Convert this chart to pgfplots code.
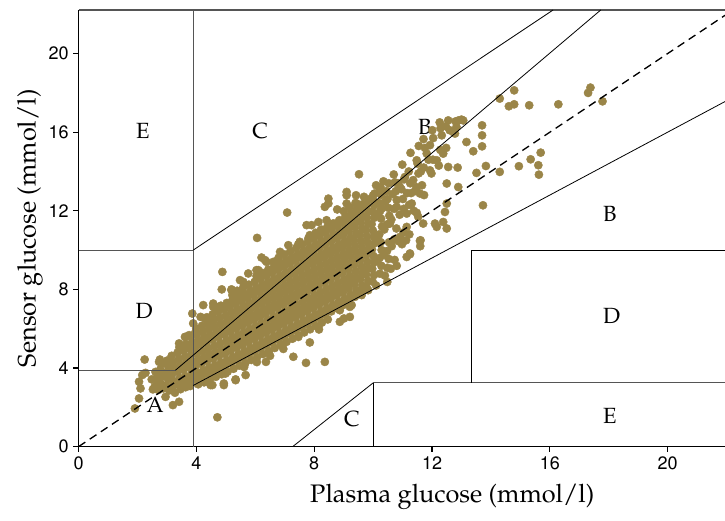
\documentclass[border=0pt]{standalone}
\usepackage[T1]{fontenc}
\usepackage{mathpazo}
\usepackage{helvet}
\usepackage{pgfplots}
\pgfplotsset{compat=1.18}

\definecolor{ptcol}{RGB}{154,133,72}
\definecolor{zonegray}{RGB}{85,85,85}

\pgfplotsset{
  readings/.style={only marks, mark=*, color=ptcol, mark size=3.1pt,
    mark options={draw=ptcol, fill=ptcol, line width=0.3pt}},
  greyline/.style={zonegray, line width=0.8pt, on layer=axis foreground},
  blackline/.style={black, line width=0.6pt, on layer=axis foreground},
}

\begin{document}
\begin{tikzpicture}
\begin{axis}[
  set layers,
  at={(0,0)}, anchor=south west,
  scale only axis,
  width=484.7pt, height=327.4pt,
  xmin=0, xmax=21.95, ymin=0, ymax=22.22,
  axis x line*=bottom, axis y line*=left,
  axis line style={black, line width=0.8pt},
  xtick={0,4,...,20}, ytick={0,4,...,20},
  tick align=outside, major tick length=4pt,
  tick style={black, line width=0.8pt},
  /pgf/number format/assume math mode=true,
  tick label style={font=\fontsize{13.5}{16}\sffamily},
  xlabel={Plasma glucose (mmol/l)},
  ylabel={Sensor glucose (mmol/l)},
  label style={font=\fontsize{19}{23}\selectfont},
  xlabel style={at={(axis description cs:0.578,-0.1157)}, anchor=center},
  ylabel style={at={(axis description cs:-0.0753,0.5)}, anchor=center},
  clip=false,
]

% paired readings
\addplot[readings] coordinates {
(2.58,3.05) (2.64,3.42) (2.71,2.88) (2.66,3.71)
(2.79,3.18) (2.84,3.55) (2.77,3.92) (2.88,2.96) (2.83,4.21)
(2.98,3.12) (3.03,3.44) (2.97,3.78) (3.05,4.05) (3.01,4.38) (3.08,2.86)
(3.18,3.02) (3.22,3.33) (3.17,3.66) (3.24,3.97) (3.21,4.29) (3.16,4.62) (3.27,2.74)
(3.38,3.15) (3.43,3.48) (3.37,3.81) (3.44,4.12) (3.41,4.46) (3.36,4.79) (3.46,2.92) (3.42,5.05)
(3.58,3.28) (3.62,3.59) (3.57,3.93) (3.64,4.24) (3.61,4.57) (3.56,4.88) (3.65,5.21) (3.63,3.02)
(3.78,3.35) (3.83,3.68) (3.77,4.01) (3.84,4.33) (3.81,4.66) (3.76,4.98) (3.85,5.31) (3.82,5.62) (3.79,3.08)
(3.98,3.42) (4.03,3.75) (3.97,4.08) (4.04,4.41) (4.01,4.74) (3.96,5.06) (4.05,5.39) (4.02,5.71) (3.99,6.02) (4.06,3.17)
(4.18,3.55) (4.23,3.88) (4.17,4.21) (4.24,4.53) (4.21,4.86) (4.16,5.19) (4.25,5.51) (4.22,5.84) (4.19,6.15) (4.26,3.27)
(4.38,3.71) (4.43,4.03) (4.37,4.36) (4.44,4.69) (4.41,5.01) (4.36,5.34) (4.45,5.66) (4.42,5.98) (4.39,6.31) (4.46,3.42) (4.35,6.58)
(4.58,3.82) (4.63,4.14) (4.57,4.47) (4.64,4.79) (4.61,5.12) (4.56,5.45) (4.65,5.77) (4.62,6.09) (4.59,6.42) (4.66,3.55) (4.55,6.73)
(4.78,3.96) (4.83,4.28) (4.77,4.61) (4.84,4.94) (4.81,5.26) (4.76,5.59) (4.85,5.92) (4.82,6.24) (4.79,6.56) (4.86,3.68) (4.75,6.88) (4.83,7.17)
(4.98,4.07) (5.03,4.39) (4.97,4.72) (5.04,5.05) (5.01,5.37) (4.96,5.70) (5.05,6.02) (5.02,6.35) (4.99,6.67) (5.06,3.82) (4.95,6.99) (5.03,7.31)
(5.18,4.24) (5.23,4.56) (5.17,4.89) (5.24,5.21) (5.21,5.54) (5.16,5.86) (5.25,6.19) (5.22,6.51) (5.19,6.84) (5.26,3.96) (5.15,7.16) (5.23,7.48)
(5.38,4.38) (5.43,4.70) (5.37,5.03) (5.44,5.36) (5.41,5.68) (5.36,6.01) (5.45,6.33) (5.42,6.66) (5.39,6.98) (5.46,4.12) (5.35,7.30) (5.43,7.62) (5.38,7.93)
(5.58,4.52) (5.63,4.85) (5.57,5.17) (5.64,5.50) (5.61,5.82) (5.56,6.15) (5.65,6.47) (5.62,6.80) (5.59,7.12) (5.66,4.25) (5.55,7.44) (5.63,7.76) (5.58,8.07)
(5.78,4.68) (5.83,5.01) (5.77,5.33) (5.84,5.66) (5.81,5.98) (5.76,6.31) (5.85,6.63) (5.82,6.96) (5.79,7.28) (5.86,4.41) (5.75,7.60) (5.83,7.92) (5.78,8.24)
(5.98,4.83) (6.03,5.16) (5.97,5.48) (6.04,5.81) (6.01,6.13) (5.96,6.46) (6.05,6.78) (6.02,7.11) (5.99,7.43) (6.06,4.55) (5.95,7.75) (6.03,8.07) (5.98,8.39) (6.04,8.68)
(6.18,4.98) (6.23,5.31) (6.17,5.63) (6.24,5.96) (6.21,6.28) (6.16,6.61) (6.25,6.93) (6.22,7.26) (6.19,7.58) (6.26,4.71) (6.15,7.90) (6.23,8.22) (6.18,8.54) (6.24,8.84)
(6.38,5.14) (6.43,5.47) (6.37,5.79) (6.44,6.12) (6.41,6.44) (6.36,6.77) (6.45,7.09) (6.42,7.42) (6.39,7.74) (6.46,4.86) (6.35,8.06) (6.43,8.38) (6.38,8.70) (6.44,9.01)
(6.58,5.29) (6.63,5.62) (6.57,5.94) (6.64,6.27) (6.61,6.59) (6.56,6.92) (6.65,7.24) (6.62,7.57) (6.59,7.89) (6.66,5.02) (6.55,8.21) (6.63,8.53) (6.58,8.85) (6.64,9.17)
(6.78,5.44) (6.83,5.77) (6.77,6.09) (6.84,6.42) (6.81,6.74) (6.76,7.07) (6.85,7.39) (6.82,7.72) (6.79,8.04) (6.86,5.17) (6.75,8.36) (6.83,8.68) (6.78,9.00) (6.84,9.32) (6.79,9.61)
(6.98,5.60) (7.03,5.93) (6.97,6.25) (7.04,6.58) (7.01,6.90) (6.96,7.23) (7.05,7.55) (7.02,7.88) (6.99,8.20) (7.06,5.33) (6.95,8.52) (7.03,8.84) (6.98,9.16) (7.04,9.48) (6.99,9.78)
(7.18,5.76) (7.23,6.09) (7.17,6.41) (7.24,6.74) (7.21,7.06) (7.16,7.39) (7.25,7.71) (7.22,8.04) (7.19,8.36) (7.26,5.49) (7.15,8.68) (7.23,9.00) (7.18,9.32) (7.24,9.64) (7.19,9.95)
(7.38,5.92) (7.43,6.25) (7.37,6.57) (7.44,6.90) (7.41,7.22) (7.36,7.55) (7.45,7.87) (7.42,8.20) (7.39,8.52) (7.46,5.65) (7.35,8.84) (7.43,9.16) (7.38,9.48) (7.44,9.80) (7.39,10.11)
(7.58,6.08) (7.63,6.41) (7.57,6.73) (7.64,7.06) (7.61,7.38) (7.56,7.71) (7.65,8.03) (7.62,8.36) (7.59,8.68) (7.66,5.81) (7.55,9.00) (7.63,9.32) (7.58,9.64) (7.64,9.96) (7.59,10.27)
(7.78,6.24) (7.83,6.57) (7.77,6.89) (7.84,7.22) (7.81,7.54) (7.76,7.87) (7.85,8.19) (7.82,8.52) (7.79,8.84) (7.86,5.97) (7.75,9.16) (7.83,9.48) (7.78,9.80) (7.84,10.12) (7.79,10.43)
(7.98,6.40) (8.03,6.73) (7.97,7.05) (8.04,7.38) (8.01,7.70) (7.96,8.03) (8.05,8.35) (8.02,8.68) (7.99,9.00) (8.06,6.13) (7.95,9.32) (8.03,9.64) (7.98,9.96) (8.04,10.28) (7.99,10.59) (8.05,10.88)
(8.18,6.56) (8.23,6.89) (8.17,7.21) (8.24,7.54) (8.21,7.86) (8.16,8.19) (8.25,8.51) (8.22,8.84) (8.19,9.16) (8.26,6.31) (8.15,9.48) (8.23,9.80) (8.18,10.12) (8.24,10.44) (8.19,10.75) (8.25,11.04)
(8.38,6.72) (8.43,7.05) (8.37,7.37) (8.44,7.70) (8.41,8.02) (8.36,8.35) (8.45,8.67) (8.42,9.00) (8.39,9.32) (8.46,6.47) (8.35,9.64) (8.43,9.96) (8.38,10.28) (8.44,10.60) (8.39,10.91) (8.45,11.20)
(8.58,6.88) (8.63,7.21) (8.57,7.53) (8.64,7.86) (8.61,8.18) (8.56,8.51) (8.65,8.83) (8.62,9.16) (8.59,9.48) (8.55,9.80) (8.63,10.12) (8.58,10.44) (8.64,10.76) (8.59,11.07) (8.65,11.36)
(8.78,7.04) (8.83,7.37) (8.77,7.69) (8.84,8.02) (8.81,8.34) (8.76,8.67) (8.85,8.99) (8.82,9.32) (8.79,9.64) (8.75,9.96) (8.83,10.28) (8.78,10.60) (8.84,10.92) (8.79,11.23) (8.85,11.52)
(8.98,7.20) (9.03,7.53) (8.97,7.85) (9.04,8.18) (9.01,8.50) (8.96,8.83) (9.05,9.15) (9.02,9.48) (8.99,9.80) (8.95,10.12) (9.03,10.44) (8.98,10.76) (9.04,11.08) (8.99,11.39) (9.05,11.68) (9.00,11.98)
(9.18,7.40) (9.23,7.73) (9.17,8.05) (9.24,8.38) (9.21,8.70) (9.16,9.03) (9.25,9.35) (9.22,9.68) (9.19,10.00) (9.15,10.32) (9.23,10.64) (9.18,10.96) (9.24,11.28) (9.19,11.59) (9.25,11.88) (9.20,12.18)
(9.38,7.62) (9.43,7.95) (9.37,8.27) (9.44,8.60) (9.41,8.92) (9.36,9.25) (9.45,9.57) (9.42,9.90) (9.39,10.22) (9.35,10.54) (9.43,10.86) (9.38,11.18) (9.44,11.50) (9.39,11.81) (9.45,12.10) (9.40,12.40)
(9.58,7.86) (9.63,8.19) (9.57,8.51) (9.64,8.84) (9.61,9.16) (9.56,9.49) (9.65,9.81) (9.62,10.14) (9.59,10.46) (9.55,10.78) (9.63,11.10) (9.58,11.42) (9.64,11.74) (9.59,12.05) (9.65,12.34)
(9.78,8.10) (9.83,8.43) (9.77,8.75) (9.84,9.08) (9.81,9.40) (9.76,9.73) (9.85,10.05) (9.82,10.38) (9.79,10.70) (9.75,11.02) (9.83,11.34) (9.78,11.66) (9.84,11.98) (9.79,12.29) (9.85,12.58)
(9.98,8.40) (10.03,8.73) (9.97,9.05) (10.04,9.38) (10.01,9.70) (9.96,10.03) (10.05,10.35) (10.02,10.68) (9.99,11.00) (9.95,11.32) (10.03,11.64) (9.98,11.96) (10.04,12.28) (9.99,12.59) (10.05,12.88)
(10.23,8.80) (10.28,9.20) (10.22,9.60) (10.29,10.00) (10.26,10.40) (10.21,10.80) (10.30,11.20) (10.27,11.60) (10.24,12.00) (10.20,12.40) (10.28,12.80) (10.25,13.20)
(10.48,9.10) (10.53,9.55) (10.47,9.95) (10.54,10.40) (10.46,11.30) (10.55,11.75) (10.52,12.15) (10.49,12.60) (10.45,13.00) (10.53,13.40)
(10.73,9.50) (10.72,10.55) (10.79,11.10) (10.71,12.10) (10.80,12.55) (10.77,13.00) (10.74,13.45) (10.70,13.85)
(10.98,10.30) (11.03,10.90) (11.04,12.10) (11.01,12.60) (10.96,13.10) (11.05,13.60) (10.99,14.35)
(11.23,10.80) (11.22,12.30) (11.29,12.90) (11.26,13.40) (11.21,14.00) (11.27,14.95)
(11.48,11.90) (11.47,13.20) (11.54,13.90) (11.51,14.40) (11.55,15.30)
(11.73,12.80) (11.72,14.20) (11.76,15.20) (11.71,15.65)
(11.98,13.90) (12.03,14.60) (12.04,15.70) (12.01,16.10)
(12.23,14.30) (12.28,15.10) (12.29,16.20) (12.26,16.50)
(12.48,15.20) (12.47,16.30) (12.55,16.60)
(12.73,16.00) (12.80,16.55) (12.90,16.60)
(10.12,9.45) (10.15,10.65) (10.18,11.85) (10.36,9.75) (10.38,11.05) (10.41,12.45) (10.63,10.20)
(10.62,11.55) (10.66,12.85) (10.86,10.45) (10.90,11.80) (10.85,13.40) (11.12,10.50) (11.15,12.90)
(11.38,12.00) (11.42,13.00) (11.66,13.30) (11.88,14.60) (11.62,14.00) (10.10,13.30) (10.35,13.50)
};

% scattered readings around the main band
\addplot[readings] coordinates {
(2.24,4.43) (2.76,4.43) (2.05,3.30) (2.10,2.96) (2.05,2.45) (1.91,1.94) (2.52,2.91) (3.20,2.11)
(4.71,1.49) (2.27,3.75) (2.61,3.80) (2.48,3.42) (3.86,6.77) (4.14,6.60) (3.41,5.25) (3.63,5.58)
(4.54,3.13) (4.93,3.21) (5.33,3.38) (4.99,3.72) (3.41,2.28) (2.95,2.53) (2.73,3.04)
(3.46,5.16) (3.75,5.67) (3.97,5.84) (4.65,7.11) (4.54,6.35) (5.22,7.71) (5.56,7.87)
(2.73,4.31) (3.07,4.23) (3.01,3.72) (2.16,3.64) (4.93,3.13) (5.33,3.42) (5.67,3.64) (4.48,3.13)
(4.88,8.89) (6.06,10.62) (7.08,11.91) (5.19,8.00) (5.59,8.38) (6.21,9.62) (6.74,9.45) (7.46,10.30)
(7.80,10.59) (7.74,11.27) (7.91,11.27) (8.22,11.01) (8.42,11.52) (8.48,12.62) (8.78,12.07) (9.10,12.96)
(9.42,12.79) (9.69,12.71) (9.10,12.37) (9.52,13.86)
(4.86,8.00) (5.19,7.96) (5.48,8.47) (5.76,8.81) (6.04,8.98) (6.33,9.49) (6.61,9.40) (3.89,6.27)
(3.61,5.58) (4.23,7.20) (4.57,7.28) (3.67,5.08)
(4.29,6.52) (4.57,7.11) (5.25,7.37) (6.10,8.98) (6.38,9.40) (6.84,9.91) (7.12,10.25) (7.51,10.42)
(7.85,10.76) (8.14,11.43) (8.36,12.20) (8.48,12.37) (9.10,12.79) (9.44,12.37)
(7.46,5.58) (7.85,5.30) (8.16,5.96) (6.95,4.97) (7.29,4.57) (7.72,4.26) (8.36,4.31) (8.87,6.35)
(9.21,6.60) (6.36,4.31) (9.01,6.52) (9.27,7.20) (8.87,6.94) (8.14,6.09) (9.61,7.71) (9.83,7.96)
(10.48,8.38) (11.14,9.65) (11.25,9.79) (9.21,7.11) (5.62,4.05) (6.05,4.30) (6.50,4.62) (6.90,5.20)
(10.10,8.20) (10.40,8.70) (10.80,9.20) (11.60,10.20) (10.60,9.05)
(13.06,16.60) (12.83,16.27) (13.17,15.50) (13.40,15.03) (13.51,13.93) (12.50,13.39) (12.89,13.21)
(12.38,11.43) (12.16,11.18) (12.50,11.10) (11.61,10.50) (11.70,11.35) (12.44,11.94)
(14.30,17.71) (14.79,18.13) (14.61,17.32) (14.79,17.42) (15.30,17.37) (16.29,17.42) (17.38,18.27)
(17.30,18.00) (17.79,17.57) (13.70,16.35) (13.70,15.84) (13.70,15.28) (15.69,14.96) (15.35,14.62)
(15.61,14.32) (15.63,13.84) (14.95,14.27) (14.30,13.98) (13.83,14.28) (13.73,12.28) (12.87,14.20)
(12.10,11.35) (11.59,10.47) (12.50,12.37)
(11.93,15.34) (12.33,15.84) (12.60,16.10) (13.00,16.64) (12.78,15.93) (11.82,14.91) (12.16,14.57)
(11.48,14.57) (11.08,13.72) (11.36,13.56) (10.91,13.21) (10.23,13.05) (10.00,12.79) (12.38,14.91)
(12.55,14.23) (11.93,14.06) (11.59,12.88) (11.31,12.37) (10.80,12.20) (10.29,12.12) (10.57,11.35)
(11.14,11.18) (10.91,10.67) (11.25,9.83) (11.53,11.70) (11.14,11.86)
};

% zone boundaries
\addplot[greyline] coordinates {(3.89,0) (3.89,22.22)};
\addplot[greyline] coordinates {(0,10) (3.89,10)};
\addplot[greyline] coordinates {(0,3.89) (3.29,3.89)};
\addplot[greyline] coordinates {(0,22.22) (21.95,22.22)};
\addplot[greyline] coordinates {(10,3.24) (21.95,3.24)};
\addplot[blackline] coordinates {(3.29,3.89) (17.73,22.22)};
\addplot[blackline] coordinates {(3.89,3.11) (21.95,17.56)};
\addplot[blackline] coordinates {(3.89,10) (16.11,22.22)};
\addplot[blackline] coordinates {(7.27,0) (10,3.24)};
\addplot[blackline] coordinates {(10,0) (10,3.24)};
\addplot[blackline] coordinates {(13.33,3.24) (13.33,10) (21.95,10)};
% line of identity
\addplot[black, line width=1pt, dash pattern=on 6pt off 4pt, on layer=axis foreground] coordinates {(0,0) (21.95,21.95)};

% zone letters
\begin{scope}[every node/.style={font=\fontsize{16.5}{20}\selectfont}]
\node at (axis cs:2.18,16.05) {E};
\node at (axis cs:6.16,16.05) {C};
\node at (axis cs:11.76,16.25) {B};
\node at (axis cs:18.04,11.83) {B};
\node at (axis cs:2.22,6.89) {D};
\node at (axis cs:18.10,6.64) {D};
\node at (axis cs:2.60,2.11) {A};
\node at (axis cs:9.28,1.40) {C};
\node at (axis cs:18.04,1.55) {E};
\end{scope}
\end{axis}
\pgfresetboundingbox
\path[use as bounding box] (-59.0pt,-55.1pt) rectangle (484.7pt,334.9pt);
\end{tikzpicture}
\end{document}
